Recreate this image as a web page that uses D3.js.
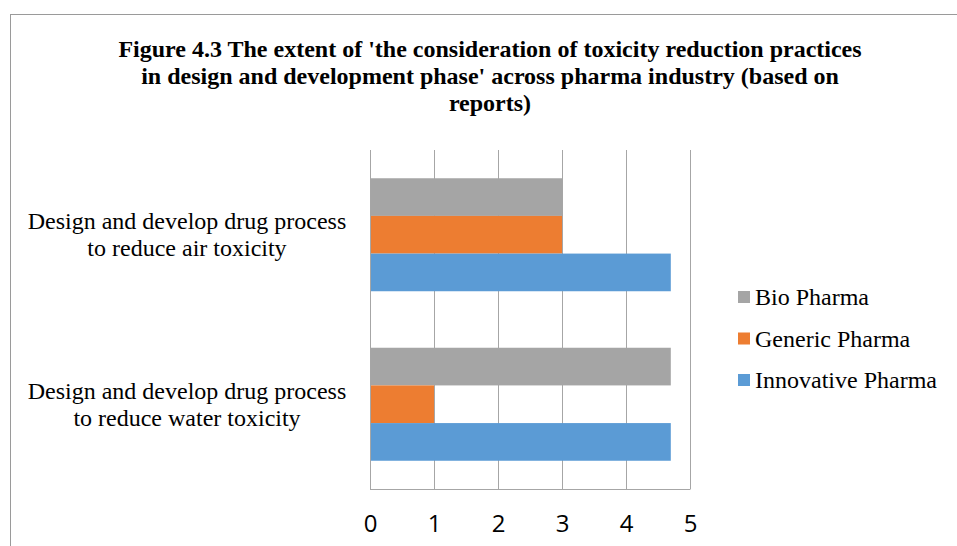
<!DOCTYPE html>
<html>
<head>
<meta charset="utf-8">
<script src="https://cdn.jsdelivr.net/npm/d3@7"></script>
<style>
  html, body { margin: 0; padding: 0; background: #fff; }
  svg { display: block; }
</style>
</head>
<body>
<svg id="chart" width="957" height="546"></svg>
<script>
// ---- data ----
const titleLines = [
  "Figure 4.3 The extent of 'the consideration of toxicity reduction practices",
  "in design and development phase' across pharma industry (based on",
  "reports)"
];
const categories = ["air", "water"];
const categoryLabels = [
  ["Design and develop drug process", "to reduce air toxicity"],
  ["Design and develop drug process", "to reduce water toxicity"]
];
const seriesNames = ["Bio Pharma", "Generic Pharma", "Innovative Pharma"];
const bioPharma = [3, 4.7];
const genericPharma = [3, 1];
const innovativePharma = [4.7, 4.7];
const seriesColors = ["#A5A5A5", "#ED7D31", "#5B9BD5"];
const xTicks = [0, 1, 2, 3, 4, 5];

const seriesValues = [bioPharma, genericPharma, innovativePharma];

// ---- layout ----
const svg = d3.select("#chart");
const plot = { left: 370, right: 690, top: 150, bottom: 489 };
const serif = "'Liberation Serif', 'Times New Roman', serif";

// outer border
svg.append("rect")
  .attr("x", 10.5).attr("y", 14.5)
  .attr("width", 1000).attr("height", 600)
  .attr("fill", "none").attr("stroke", "#9a9a9a").attr("stroke-width", 1);

// title
svg.append("g").selectAll("text")
  .data(titleLines).join("text")
  .attr("x", 490).attr("y", (d, i) => 57 + i * 26.8)
  .attr("text-anchor", "middle")
  .attr("font-family", serif).attr("font-weight", "bold")
  .attr("font-size", 24)
  .attr("fill", "#000")
  .text(d => d);

const x = d3.scaleLinear().domain([0, 5]).range([plot.left, plot.right]);
const y = d3.scaleBand().domain(categories).range([plot.top, plot.bottom])
  .paddingInner(1 / 3).paddingOuter(1 / 6);
const ySeries = d3.scaleBand().domain(seriesNames).range([0, y.bandwidth()]);

// gridlines
svg.append("g").selectAll("line")
  .data(xTicks.filter(t => t > 0)).join("line")
  .attr("x1", d => Math.round(x(d)) + 0.5).attr("x2", d => Math.round(x(d)) + 0.5)
  .attr("y1", plot.top).attr("y2", plot.bottom)
  .attr("stroke", "#a6a6a6").attr("stroke-width", 1);

// bars
const cats = categories.map((c, ci) => ({ c, ci }));
svg.append("g").selectAll("g")
  .data(cats).join("g")
  .attr("transform", d => `translate(0,${y(d.c)})`)
  .selectAll("rect")
  .data(d => seriesNames.map((s, si) => ({ s, si, v: seriesValues[si][d.ci] })))
  .join("rect")
  .attr("x", x(0))
  .attr("y", d => ySeries(d.s))
  .attr("width", d => x(d.v) - x(0))
  .attr("height", ySeries.bandwidth())
  .attr("fill", d => seriesColors[d.si]);

// axes lines
svg.append("line")
  .attr("x1", x(0) + 0.5).attr("x2", x(0) + 0.5)
  .attr("y1", plot.top).attr("y2", plot.bottom)
  .attr("stroke", "#a6a6a6");
svg.append("line")
  .attr("x1", x(0)).attr("x2", plot.right + 0.5)
  .attr("y1", plot.bottom + 0.5).attr("y2", plot.bottom + 0.5)
  .attr("stroke", "#a6a6a6");

// x axis tick labels
const xAxis = d3.axisBottom(x).tickValues(xTicks).tickSize(0).tickPadding(0)
  .tickFormat(d3.format("d"));
const gx = svg.append("g")
  .attr("transform", `translate(0,${plot.bottom})`)
  .call(xAxis);
gx.select(".domain").remove();
gx.selectAll("text")
  .attr("font-family", "'Open Sans', 'Noto Sans', sans-serif")
  .attr("font-size", 24)
  .attr("fill", "#000")
  .attr("dy", null)
  .attr("y", 43);

// category labels
const lab = svg.append("g").selectAll("text")
  .data(cats).join("text")
  .attr("text-anchor", "middle")
  .attr("font-family", serif).attr("font-size", 24)
  .attr("fill", "#000");
lab.each(function (d) {
  const lines = categoryLabels[d.ci];
  const cy = y(d.c) + y.bandwidth() / 2;
  d3.select(this).selectAll("tspan")
    .data(lines).join("tspan")
    .attr("x", 187)
    .attr("y", (t, i) => cy - 13.5 + i * 27 + 8)
    .text(t => t);
});

// legend
const lg = svg.append("g").selectAll("g")
  .data(seriesNames).join("g")
  .attr("transform", (d, i) => `translate(738,${297 + i * 41.5})`);
lg.append("rect")
  .attr("x", 0).attr("y", -6).attr("width", 12).attr("height", 12)
  .attr("fill", (d, i) => seriesColors[i]);
lg.append("text")
  .attr("x", 17).attr("y", 8)
  .attr("font-family", serif).attr("font-size", 24)
  .attr("fill", "#000")
  .text(d => d);
</script>
</body>
</html>
